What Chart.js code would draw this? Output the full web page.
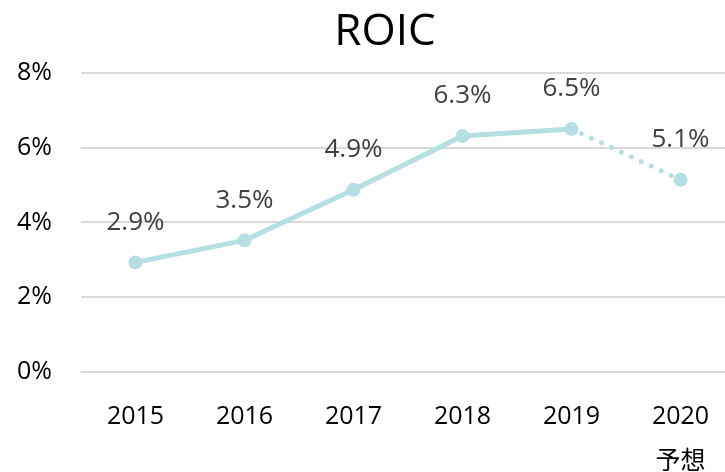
<!DOCTYPE html>
<html>
<head>
<meta charset="utf-8">
<script src="https://cdn.jsdelivr.net/npm/chart.js@4"></script>
<style>
  html, body { margin: 0; padding: 0; background: #fff; overflow: hidden; }
  #wrap { width: 770px; height: 472px; }
</style>
</head>
<body>
<div id="wrap"><canvas id="roic"></canvas></div>
<script>
const years = ['2015', '2016', '2017', '2018', '2019', ['2020', '予想']];
const roic = [2.93, 3.52, 4.87, 6.31, 6.5, 5.14];
const yTicks = [0, 2, 4, 6, 8];

const lineColor = '#b5dfe2';
const fontFamily = '"Open Sans", "Noto Sans CJK JP", sans-serif';

// labels above each point
const valueLabels = {
    id: 'valueLabels',
    afterDatasetsDraw(chart) {
        const { ctx } = chart;
        const meta = chart.getDatasetMeta(0);
        ctx.save();
        ctx.font = '26px ' + fontFamily;
        ctx.fillStyle = '#404040';
        ctx.textAlign = 'center';
        ctx.textBaseline = 'middle';
        meta.data.forEach((pt, i) => {
            ctx.fillText(roic[i].toFixed(1) + '%', pt.x, pt.y - 40);
        });
        ctx.restore();
    }
};

// title sits a bit right of the plot centre in the original
const shiftTitle = {
    id: 'shiftTitle',
    afterLayout(chart) {
        if (chart.titleBlock) chart.titleBlock.left += 35;
    }
};

new Chart(document.getElementById('roic'), {
    type: 'line',
    data: {
        labels: years,
        datasets: [{
            data: roic,
            borderColor: lineColor,
            backgroundColor: lineColor,
            borderWidth: 5,
            borderCapStyle: 'round',
            pointRadius: 7,
            pointHoverRadius: 7,
            pointBorderWidth: 0,
            tension: 0,
            segment: {
                borderDash: ctx => ctx.p1DataIndex === roic.length - 1 ? [0, 11] : undefined
            }
        }]
    },
    options: {
        responsive: true,
        maintainAspectRatio: false,
        animation: false,
        layout: { padding: { left: 0, right: 35, top: 6, bottom: 0 } },
        plugins: {
            legend: { display: false },
            tooltip: { enabled: false },
            title: {
                display: true,
                text: 'ROIC',
                color: '#000',
                font: { family: fontFamily, size: 44, weight: 'normal' },
                padding: { top: 0, bottom: 14 }
            }
        },
        scales: {
            x: {
                offset: true,
                grid: { display: false },
                border: { display: false },
                afterFit: axis => { axis.height = 100; },
                ticks: {
                    color: '#000',
                    font: { family: fontFamily, size: 25, lineHeight: 1.8 },
                    padding: 14,
                    maxRotation: 0
                }
            },
            y: {
                min: 0,
                max: 8,
                afterBuildTicks: axis => { axis.ticks = yTicks.map(v => ({ value: v })); },
                afterFit: axis => { axis.width = 81; },
                grid: { color: '#d9d9d9', lineWidth: 2, drawTicks: false },
                border: { display: false },
                ticks: {
                    color: '#000',
                    font: { family: fontFamily, size: 25 },
                    padding: 29,
                    callback: v => v + '%'
                }
            }
        }
    },
    plugins: [valueLabels, shiftTitle]
});
</script>
</body>
</html>
